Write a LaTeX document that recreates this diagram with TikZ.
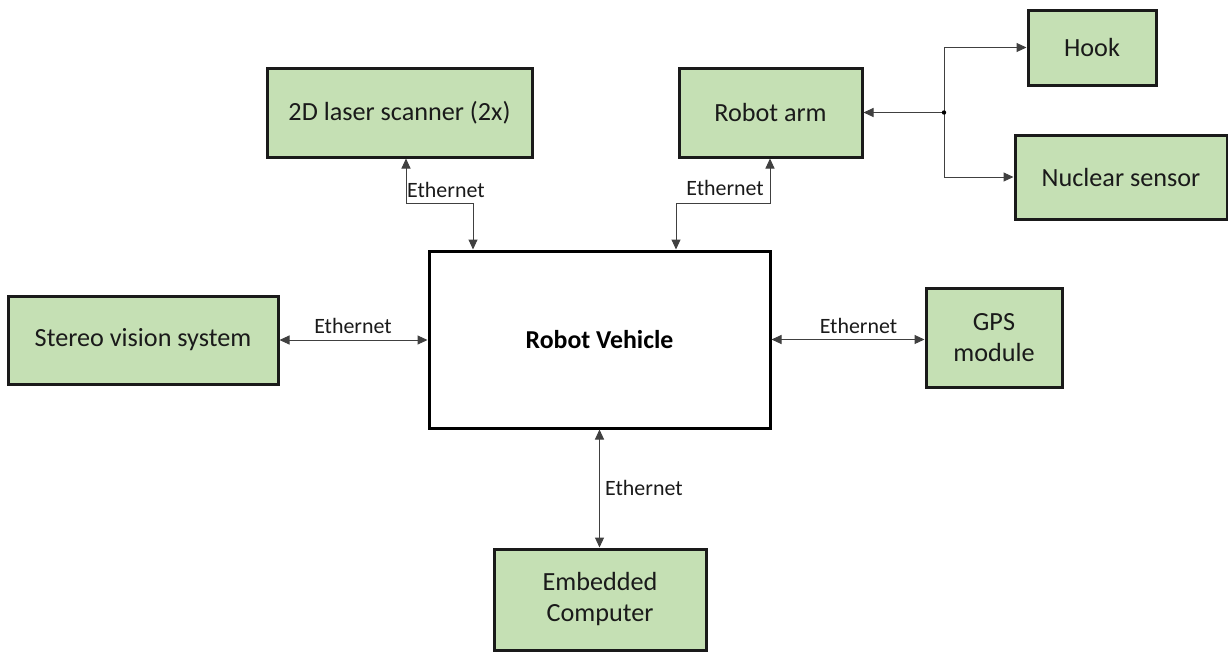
\documentclass[tikz,border=0pt]{standalone}
\usepackage{fontspec}
\setmainfont{Carlito}
\usetikzlibrary{arrows.meta}
\definecolor{boxgreen}{HTML}{C5E0B4}
\definecolor{ink}{HTML}{1A1A1A}
\definecolor{wire}{HTML}{404040}
\begin{document}
\begin{tikzpicture}[x=1pt,y=-1pt,
  unit/.style={draw=ink,line width=3pt,fill=boxgreen,inner sep=0pt,align=center,
    text=ink,font=\fontsize{26.2}{31}\selectfont},
  hub/.style={draw=black,line width=3pt,fill=white,inner sep=0pt,
    font=\fontsize{25.8}{31}\selectfont\bfseries},
  link/.style={draw=wire,line width=1pt},
  bi/.style={link,{Triangle[length=10pt,width=9pt]}-{Triangle[length=10pt,width=9pt]}},
  uni/.style={link,-{Triangle[length=10pt,width=9pt]}},
  tag/.style={inner sep=0pt,text=ink,font=\fontsize{21.9}{26}\selectfont}]
\useasboundingbox (0,0) rectangle (1228,651);

% blocks
\node[hub,minimum width=341pt,minimum height=177pt] (veh) at (599.5,339.5) {Robot Vehicle};
\node[unit,minimum width=265pt,minimum height=89pt] (laser) at (399.5,112.5) {2D laser scanner (2x)};
\node[unit,minimum width=183pt,minimum height=89pt] (arm) at (770.5,112.5) {Robot arm};
\node[unit,minimum width=128pt,minimum height=75pt] (hook) at (1092,47.5) {Hook};
\node[unit,minimum width=212pt,minimum height=84pt] (nuc) at (1121,177) {\raisebox{-2pt}{Nuclear sensor}};
\node[unit,minimum width=270pt,minimum height=88pt] (stereo) at (143,340) {Stereo vision system};
\node[unit,minimum width=136pt,minimum height=99pt] (gps) at (994,337.5) {GPS\\module};
\node[unit,minimum width=212pt,minimum height=101pt] (emb) at (600,599.5) {Embedded\\Computer};

% routing points
\coordinate (lb1) at (406,203);
\coordinate (lb2) at (473,203);
\coordinate (ab1) at (770,203);
\coordinate (ab2) at (676,203);
\coordinate (junc) at (944,112.5);

% Ethernet links
\draw[bi] (laser.south -| lb1) -- (lb1) -- (lb2) -- (lb2 |- veh.north);
\draw[bi] (arm.south -| ab1) -- (ab1) -- (ab2) -- (ab2 |- veh.north);
\draw[bi] (stereo.east) -- (stereo.east -| veh.west);
\draw[bi] (veh.east) -- (veh.east -| gps.west);
\draw[bi] (veh.south) -- (veh.south |- emb.north);

% robot arm tool branch
\draw[uni] (junc) -- (arm.east);
\draw[uni] (junc) |- (hook.west);
\draw[uni] (junc) |- (nuc.west);
\fill[black] (junc) circle (2.2pt);

% link labels
\node[tag,anchor=west] (t1) at (407,190) {Ethernet};
\node[tag,anchor=east] (t2) at (764,188) {Ethernet};
\node[tag] (t3) at (353,326) {Ethernet};
\node[tag] (t4) at (858.5,326) {Ethernet};
\node[tag,anchor=west] (t5) at (605,488) {Ethernet};
\end{tikzpicture}
\end{document}
